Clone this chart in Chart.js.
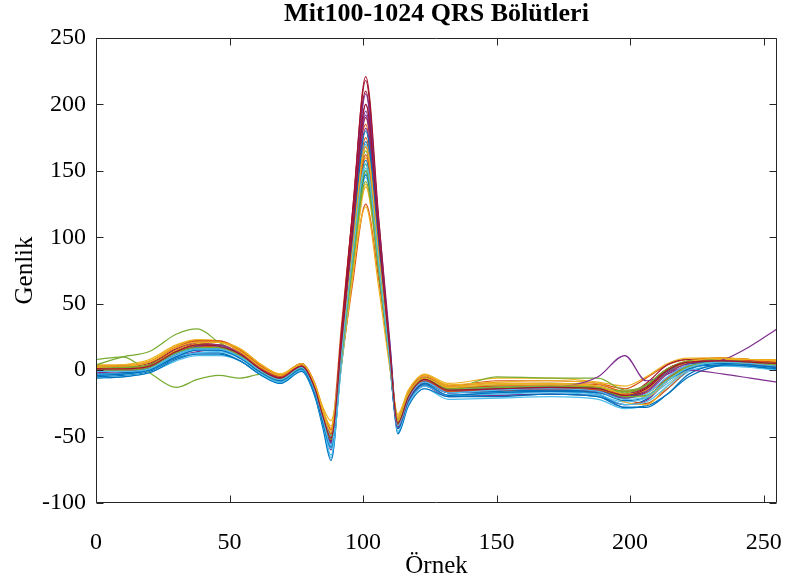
<!DOCTYPE html>
<html>
<head>
<meta charset="utf-8">
<script src="https://cdn.jsdelivr.net/npm/chart.js@4.4.1/dist/chart.umd.min.js"></script>
<style>
  html, body { margin: 0; padding: 0; background: #fff; }
  #wrap { width: 789px; height: 577px; }
</style>
</head>
<body>
<div id="wrap"><canvas id="qrs"></canvas></div>
<script>
const sampleIdx = [0, 10, 20, 30, 38, 46, 54, 62, 69, 77, 82, 85, 88, 92, 96, 101, 106, 110, 113, 117, 123, 132, 150, 170, 188, 198, 206, 214, 222, 235, 245, 255];

// amplitudes (Genlik) of the QRS segments
const seg01 = [-5, -4, -1, 9, 13, 13, 7, -4, -9, 0, -18, -40, -58, 5, 72, 172, 95, 20, -40, -22, -11, -19, -19, -18, -20, -26, -22, -6, 2, 4, 3, 0];
const seg02 = [2, 2, 6, 18, 22, 22, 15, 2, -4, 5, -10, -30, -44, 35, 115, 185, 80, 5, -40, -19, -5, -12, -8, -8, -10, -14, -6, 4, 8, 9, 7, 6];
const seg03 = [3, 4, 8, 19, 23, 22, 16, 4, -3, 4, -11, -28, -38, 12, 75, 140, 70, 6, -33, -15, -3, -10, -6, -6, -9, -12, -5, 5, 9, 9, 8, 7];
const seg04 = [-3, -2, 1, 10, 14, 15, 9, -2, -8, 1, -17, -39, -60, 12, 92, 200, 110, 22, -44, -24, -12, -20, -19, -18, -19, -26, -23, -8, 3, 7, 6, 3];
const seg05 = [8, 10, -2, -13, -7, -4, -6, -3, -7, 2, -15, -35, -50, 14, 82, 155, 78, 9, -39, -20, -7, -14, -5, -6, -6, -15, -12, 1, 6, 6, 5, 4];
const seg06 = [-6, -5, -2, 7, 11, 11, 7, -4, -10, -1, -20, -42, -66, 8, 74, 148, 78, 8, -47, -26, -14, -22, -21, -20, -22, -29, -26, -14, -1, 3, 2, 0];
const seg07 = [2, 3, 5, 16, 21, 21, 14, 2, -4, 5, -13, -35, -52, 30, 118, 210, 100, 10, -42, -21, -8, -15, -13, -13, -14, -19, -10, 4, 8, 8, 7, 6];
const seg08 = [-6, -5, -2, 8, 12, 12, 7, -4, -10, -1, -20, -44, -68, 10, 76, 150, 80, 8, -48, -27, -14, -20, -20, -18, -20, -28, -27, -18, -3, 4, 3, 1];
const seg09 = [0, 0, 2, 14, 18, 18, 12, 0, -6, 3, -15, -34, -48, 8, 64, 125, 66, 6, -37, -18, -6, -13, -12, -11, -13, -22, -25, -14, 0, 8, 7, 6];
const seg10 = [4, 4, 7, 18, 22, 21, 15, 3, -3, 5, -11, -30, -44, 20, 92, 160, 75, 6, -35, -16, -4, -11, -9, -8, -10, -16, -13, -1, 7, 9, 8, 8];
const seg11 = [-1, 0, 2, 12, 17, 18, 12, 0, -6, 3, -15, -36, -53, 20, 102, 195, 98, 13, -42, -21, -9, -17, -15, -14, -16, -21, -17, -3, 5, 6, 5, 3];
const seg12 = [4, 10, 14, 27, 31, 21, 12, 0, -6, 3, -14, -34, -49, 16, 88, 165, 83, 10, -39, -20, -7, -15, -13, -12, -14, -19, -14, 0, 5, 6, 5, 4];
const seg13 = [-4, -3, 0, 10, 13, 14, 9, -3, -9, 0, -18, -41, -59, 8, 78, 152, 82, 10, -44, -23, -11, -19, -18, -17, -19, -24, -21, -10, 1, 5, 4, 2];
const seg14 = [0, 1, 3, 14, 18, 17, 11, -1, -6, 3, -15, -36, -54, 28, 118, 218, 105, 12, -44, -23, -10, -17, -15, -15, -17, -21, -15, 0, 6, 7, 5, 4];
const seg15 = [-3, -2, 0, 12, 16, 16, 10, -2, -8, 1, -17, -39, -57, 16, 88, 158, 76, 4, -43, -23, -10, -17, -17, -16, -18, -28, -28, -18, -5, 4, 5, 2];
const seg16 = [3, 3, 6, 17, 22, 22, 15, 3, -4, 5, -12, -31, -45, 15, 84, 162, 82, 10, -36, -17, -4, -12, -10, -10, -11, -16, -12, 1, 7, 9, 8, 7];
const seg17 = [1, 1, 4, 15, 19, 18, 12, 0, -6, 3, -14, -33, -47, 5, 68, 138, 74, 9, -36, -18, -6, -14, -12, -12, -14, -24, -26, -12, 1, 8, 8, 7];
const seg18 = [0, 1, 3, 13, 18, 18, 12, 0, -6, 3, -14, -35, -51, 19, 96, 182, 92, 12, -40, -20, -8, -15, -14, -13, -14, -18, -12, 0, 0, -3, -6, -9];
const seg19 = [1, 2, 4, 14, 19, 19, 12, 0, -5, 4, -13, -33, -48, 20, 88, 155, 74, 6, -38, -19, -6, -13, -11, -10, -12, -17, -12, 1, 7, 8, 6, 4];
const seg20 = [-3, -3, 0, 11, 15, 15, 9, -2, -8, 1, -17, -39, -64, 6, 76, 145, 78, 8, -46, -25, -12, -19, -17, -16, -18, -26, -24, -12, 0, 6, 6, 4];
const seg21 = [1, 1, 4, 15, 20, 19, 12, 1, -5, 4, -13, -35, -51, 21, 100, 190, 96, 13, -40, -20, -7, -15, -14, -13, -14, -18, -13, 1, 6, 7, 6, 5];
const seg22 = [-4, -3, 0, 10, 15, 15, 9, -2, -8, 1, -18, -40, -58, 13, 80, 147, 74, 5, -44, -23, -11, -19, -17, -16, -17, -23, -20, -8, 1, 5, 4, 2];
const seg23 = [0, 1, 3, 14, 19, 19, 13, 1, -5, 4, -13, -33, -48, 18, 92, 175, 88, 11, -39, -19, -6, -14, -12, -12, -13, -18, -17, -6, 4, 7, 6, 5];
const seg24 = [3, 3, 6, 17, 21, 21, 14, 2, -4, 5, -11, -30, -42, 14, 72, 123, 60, 2, -34, -15, -4, -12, -10, -10, -12, -20, -20, -8, 3, 8, 8, 7];
const seg25 = [0, 0, 3, 13, 17, 17, 11, -1, -7, 2, -15, -36, -54, 20, 100, 192, 96, 12, -41, -21, -8, -16, -14, -13, -5, 11, -8, -3, 4, 8, 18, 31];
const seg26 = [2, 2, 4, 14, 19, 18, 11, -1, -7, 2, -15, -35, -50, 13, 77, 142, 72, 7, -38, -18, -6, -14, -13, -12, -13, -16, -11, 1, 6, 7, 6, 5];
const seg27 = [0, 0, 3, 14, 18, 18, 12, 0, -6, 3, -14, -34, -50, 17, 90, 170, 86, 10, -40, -20, -7, -15, -13, -13, -15, -21, -18, -5, 4, 6, 5, 4];
const seg28 = [-1, 0, 2, 13, 17, 17, 11, 0, -6, 3, -15, -36, -53, 25, 113, 221, 111, 17, -42, -22, -9, -16, -15, -14, -15, -20, -15, -1, 5, 6, 5, 3];
const seg29 = [-1, -1, 2, 13, 17, 17, 11, -1, -7, 2, -16, -37, -55, 19, 94, 180, 90, 12, -43, -22, -9, -17, -16, -15, -16, -20, -14, -1, 5, 6, 4, 2];
const seg30 = [0, 0, 3, 14, 18, 17, 11, -1, -6, 3, -15, -36, -52, 17, 88, 168, 84, 11, -41, -21, -8, -16, -15, -14, -15, -19, -14, 0, 6, 7, 5, 4];
const seg31 = [2, 1, 3, 15, 20, 21, 16, 4, -3, 4, -12, -32, -46, 18, 90, 168, 84, 10, -38, -18, -6, -13, -11, -11, -12, -18, -15, -2, 6, 9, 8, 7];
const seg32 = [-2, -1, 2, 12, 18, 19, 12, 0, -6, 3, -15, -36, -55, 22, 104, 208, 104, 14, -43, -22, -9, -17, -15, -14, -16, -21, -16, -2, 5, 7, 5, 3];
const seg33 = [0, 0, 2, 13, 17, 17, 11, -1, -7, 2, -15, -36, -52, 12, 80, 150, 76, 8, -40, -20, -7, -15, -13, -13, -14, -20, -19, -7, 3, 6, 5, 4];
const seg34 = [-1, -1, 1, 12, 16, 16, 10, -1, -7, 2, -16, -37, -57, 14, 84, 155, 78, 7, -42, -21, -9, -17, -15, -14, -16, -22, -20, -8, 2, 6, 5, 3];
const seg35 = [1, 1, 3, 14, 19, 18, 12, 0, -6, 3, -14, -35, -51, 22, 104, 200, 100, 14, -40, -20, -7, -15, -14, -13, -14, -19, -14, 0, 6, 7, 6, 5];

const segments = [seg01, seg02, seg03, seg04, seg05, seg06, seg07, seg08, seg09, seg10,
                  seg11, seg12, seg13, seg14, seg15, seg16, seg17, seg18, seg19, seg20,
                  seg21, seg22, seg23, seg24, seg25, seg26, seg27, seg28, seg29, seg30,
                  seg31, seg32, seg33, seg34, seg35];

// MATLAB default colour order
const palette = ['#0072BD', '#D95319', '#EDB120', '#7E2F8E', '#77AC30', '#4DBEEE', '#A2142F'];

const serif = '"Liberation Serif", "Times New Roman", serif';

// box round the axes with inward ticks on all four sides
const axesBox = {
  id: 'axesBox',
  afterDatasetsDraw(chart) {
    const {ctx, chartArea: a, scales: {x, y}} = chart;
    const L = Math.round(a.left) + 0.5, R = Math.round(a.right) - 0.5;
    const T = Math.round(a.top) + 0.5, B = Math.round(a.bottom) - 0.5;
    const len = 7;
    ctx.save();
    ctx.strokeStyle = '#262626';
    ctx.lineWidth = 1;
    ctx.beginPath();
    ctx.rect(L, T, R - L, B - T);
    x.ticks.forEach(t => {
      const px = Math.round(x.getPixelForValue(t.value)) + 0.5;
      ctx.moveTo(px, B); ctx.lineTo(px, B - len);
      ctx.moveTo(px, T); ctx.lineTo(px, T + len);
    });
    y.ticks.forEach(t => {
      const py = Math.round(y.getPixelForValue(t.value)) + 0.5;
      ctx.moveTo(L, py); ctx.lineTo(L + len, py);
      ctx.moveTo(R, py); ctx.lineTo(R - len, py);
    });
    ctx.stroke();
    ctx.restore();
  }
};

new Chart(document.getElementById('qrs'), {
  type: 'line',
  data: {
    datasets: segments.map((seg, i) => ({
      label: 'seg' + (i + 1),
      data: seg.map((v, k) => ({x: sampleIdx[k], y: v})),
      borderColor: palette[i % palette.length],
      borderWidth: 1.2,
      pointRadius: 0,
      fill: false,
      cubicInterpolationMode: 'monotone',
      order: segments.length - i
    }))
  },
  options: {
    responsive: true,
    maintainAspectRatio: false,
    animation: false,
    layout: {padding: {left: 0, right: 12, top: 0, bottom: 0}},
    plugins: {
      legend: {display: false},
      tooltip: {enabled: false},
      title: {
        display: true,
        text: 'Mit100-1024 QRS Bölütleri',
        color: '#000',
        fullSize: false,
        font: {family: serif, size: 26, weight: 'bold', lineHeight: 1},
        padding: {top: 1, bottom: 11}
      }
    },
    scales: {
      x: {
        type: 'linear',
        min: 0,
        max: 255,
        grid: {display: false, drawTicks: true, tickLength: 22},
        border: {display: false},
        ticks: {stepSize: 50, includeBounds: false, color: '#000', padding: 3, maxRotation: 0,
                font: {family: serif, size: 24}},
        title: {display: true, text: 'Örnek', color: '#000',
                font: {family: serif, size: 25, lineHeight: 0.85}, padding: {top: 0, bottom: 0}},
        afterFit(scale) { scale.height = 74; }
      },
      y: {
        min: -100,
        max: 250,
        grid: {display: false, drawTicks: false},
        border: {display: false},
        ticks: {stepSize: 50, color: '#000', padding: 10,
                font: {family: serif, size: 24}},
        title: {display: true, text: 'Genlik', color: '#000',
                font: {family: serif, size: 25}, padding: {top: 10}},
        afterFit(scale) { scale.width = 96; }
      }
    }
  },
  plugins: [axesBox]
});
</script>
</body>
</html>
